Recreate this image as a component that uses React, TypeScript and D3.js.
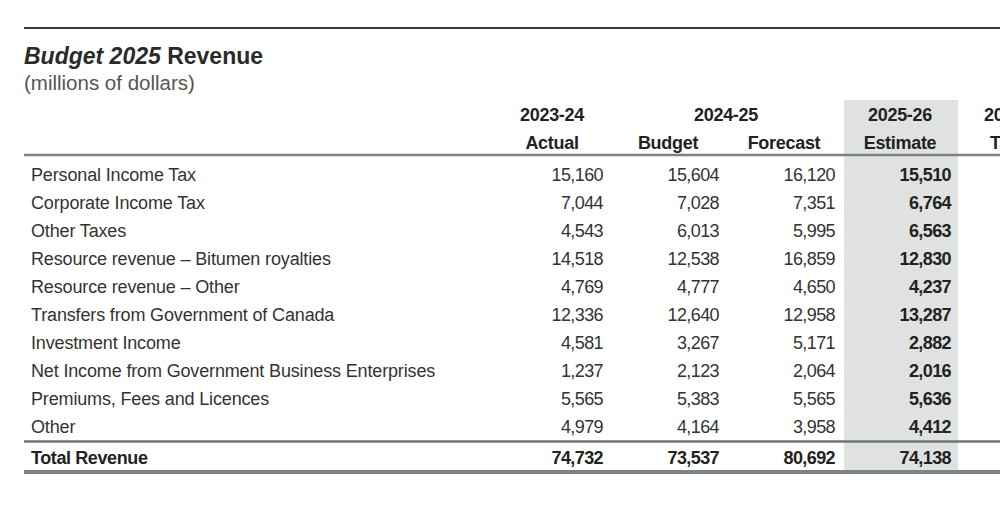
import React from "react";
import * as d3 from "d3";

const categories = [
  "Personal Income Tax",
  "Corporate Income Tax",
  "Other Taxes",
  "Resource revenue – Bitumen royalties",
  "Resource revenue – Other",
  "Transfers from Government of Canada",
  "Investment Income",
  "Net Income from Government Business Enterprises",
  "Premiums, Fees and Licences",
  "Other",
];

const columnKeys = ["Actual", "Budget", "Forecast", "Estimate", "Target"];
const yearGroups = [
  { label: "2023-24", cols: ["Actual"] },
  { label: "2024-25", cols: ["Budget", "Forecast"] },
  { label: "2025-26", cols: ["Estimate"] },
  { label: "2026-27", cols: ["Target"] },
];

const actual2324 = [15160, 7044, 4543, 14518, 4769, 12336, 4581, 1237, 5565, 4979];
const budget2425 = [15604, 7028, 6013, 12538, 4777, 12640, 3267, 2123, 5383, 4164];
const forecast2425 = [16120, 7351, 5995, 16859, 4650, 12958, 5171, 2064, 5565, 3958];
const estimate2526 = [15510, 6764, 6563, 12830, 4237, 13287, 2882, 2016, 5636, 4412];

const totalLabel = "Total Revenue";
const totals = [74732, 73537, 80692, 74138];

const seriesByCol: Record<string, number[]> = {
  Actual: actual2324,
  Budget: budget2425,
  Forecast: forecast2425,
  Estimate: estimate2526,
};

const W = 1000;
const H = 513;

export default function App() {
  const fmt = d3.format(",");
  const x = d3.scaleBand<string>().domain(columnKeys).range([494, 1074]).paddingInner(0);
  const y = d3.scalePoint<string>().domain(categories).range([174, 426]);
  const totalY = 457;
  const bw = x.bandwidth();
  const numPad = 7;
  const font = "'Liberation Sans', Arial, Helvetica, sans-serif";

  return (
    <svg
      width={W}
      height={H}
      style={{ position: "absolute", left: 0, top: 0, background: "#fff" }}
      fontFamily={font}
    >
      {/* shaded estimate column */}
      <rect x={x("Estimate")! + 2} y={100} width={bw - 2} height={372} fill="#dfe2e1" />

      {/* top rule */}
      <line x1={24} x2={W} y1={28} y2={28} stroke="#3a3a3a" strokeWidth={2} />

      {/* title */}
      <text x={24} y={64} fontSize={23} fill="#2a2a2a" fontWeight="bold">
        <tspan fontStyle="italic">Budget 2025</tspan>
        <tspan> Revenue</tspan>
      </text>
      <text x={24} y={90} fontSize={20.5} fill="#555">
        (millions of dollars)
      </text>

      {/* header */}
      {yearGroups.map((g) => {
        const x0 = x(g.cols[0])!;
        const x1 = x(g.cols[g.cols.length - 1])! + bw;
        return (
          <text
            key={g.label}
            x={(x0 + x1) / 2}
            y={121}
            textAnchor="middle"
            fontSize={18}
            fontWeight="bold"
            letterSpacing={-0.3}
            fill="#222"
          >
            {g.label}
          </text>
        );
      })}
      {columnKeys.map((c) => (
        <text
          key={c}
          x={x(c)! + bw / 2}
          y={149}
          textAnchor="middle"
          fontSize={18}
          fontWeight="bold"
          letterSpacing={-0.3}
          fill="#222"
        >
          {c}
        </text>
      ))}
      <line x1={24} x2={W} y1={155} y2={155} stroke="#7c8282" strokeWidth={2.5} />

      {/* rows */}
      {categories.map((cat, i) => (
        <g key={cat}>
          <text x={31} y={y(cat)! + 6.5} fontSize={18} letterSpacing={-0.15} fill="#333">
            {cat}
          </text>
          {Object.keys(seriesByCol).map((c) => (
            <text
              key={c}
              x={x(c)! + bw - numPad}
              y={y(cat)! + 6.5}
              textAnchor="end"
              fontSize={18}
              letterSpacing={-0.6}
              fontWeight={c === "Estimate" ? "bold" : "normal"}
              fill={c === "Estimate" ? "#222" : "#333"}
            >
              {fmt(seriesByCol[c][i])}
            </text>
          ))}
        </g>
      ))}

      {/* total */}
      <line x1={24} x2={W} y1={441.5} y2={441.5} stroke="#6f7575" strokeWidth={2.5} />
      <text x={31} y={totalY + 6.5} fontSize={18} fontWeight="bold" letterSpacing={-0.4} fill="#222">
        {totalLabel}
      </text>
      {Object.keys(seriesByCol).map((c, j) => (
        <text
          key={c}
          x={x(c)! + bw - numPad}
          y={totalY + 6.5}
          textAnchor="end"
          fontSize={18}
          fontWeight="bold"
          letterSpacing={-0.6}
          fill="#222"
        >
          {fmt(totals[j])}
        </text>
      ))}
      <line x1={24} x2={W} y1={472} y2={472} stroke="#7d8484" strokeWidth={4} />
    </svg>
  );
}
